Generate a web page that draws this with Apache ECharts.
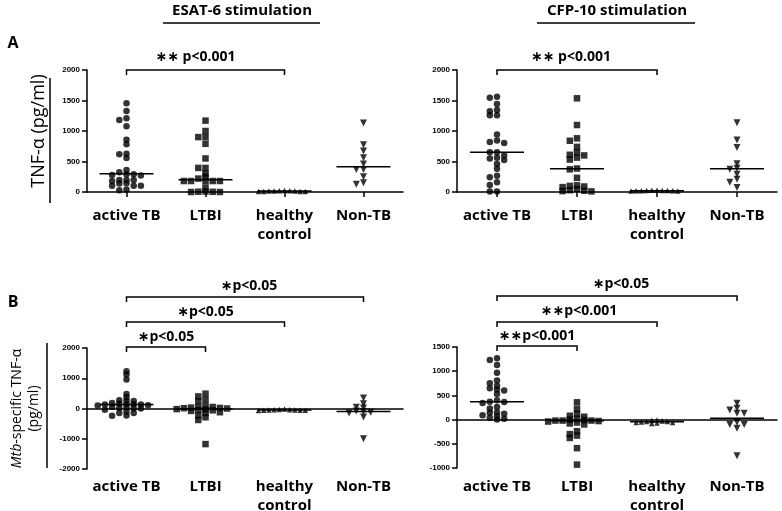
<!DOCTYPE html>
<html><head><meta charset="utf-8">
<script src="https://cdn.jsdelivr.net/npm/echarts@6/dist/echarts.min.js"></script>
<style>html,body{margin:0;padding:0;background:#fff}#c{width:782px;height:511px}</style>
</head><body><div id="c"></div>
<script>
// ---------------- DATA ----------------
const categories = ['active TB', 'LTBI', 'healthy\ncontrol', 'Non-TB'];

const ticksA = [0, 500, 1000, 1500, 2000];
const ticksBLeft = [-2000, -1000, 0, 1000, 2000];
const ticksBRight = [-1000, -500, 0, 500, 1000, 1500];

// A: ESAT-6 stimulation, TNF-α (pg/ml)
const esatActiveTB = [1453, 1327, 1208, 1180, 1077, 857, 782, 628, 618, 557, 360, 322, 290, 290, 280, 270, 197, 197, 180, 197, 143, 138, 104, 104, 104, 40, 30];
const esatLTBI = [1170, 1000, 900, 900, 790, 550, 395, 395, 303, 248, 220, 180, 180, 180, 180, 180, 73, 8, 5, 3, 0, 0];
const esatHealthy = [20, 15, 10, 25, 10, 15, 20, 10, 15, 10];
const esatNonTB = [1133, 776, 674, 563, 460, 370, 370, 250, 153, 127];
const esatMedians = [300, 200, 15, 415];

// A: CFP-10 stimulation
const cfpActiveTB = [1563, 1547, 1443, 1344, 1323, 1260, 1260, 944, 844, 820, 805, 650, 650, 600, 560, 550, 523, 457, 380, 268, 240, 160, 115, 10, 10];
const cfpLTBI = [1536, 1098, 880, 840, 740, 650, 610, 600, 564, 532, 385, 372, 232, 110, 100, 90, 80, 50, 30, 20, 15, 10];
const cfpHealthy = [20, 25, 15, 30, 20, 25, 15, 20, 30, 25];
const cfpNonTB = [1136, 852, 728, 465, 388, 372, 290, 208, 160, 73];
const cfpMedians = [650, 380, 20, 380];

// B: Mtb-specific TNF-α, ESAT-6
const specEsatActiveTB = [1230, 1120, 960, 480, 370, 270, 260, 250, 180, 160, 150, 140, 130, 130, 110, 100, 60, 40, 20, 10, 0, -40, -100, -150, -150, -230, -240];
const specEsatLTBI = [490, 400, 290, 243, 80, 60, 50, 30, 20, 10, 0, -20, -30, -50, -60, -80, -123, -150, -230, -290, -380, -1177];
const specEsatHealthy = [-20, -30, -40, -45, -50, -50, -55, -60, -60, -70];
const specEsatNonTB = [343, 157, 43, 20, -80, -100, -120, -150, -280, -1000];
const specEsatMedians = [130, -10, -50, -100];

// B: Mtb-specific TNF-α, CFP-10
const specCfpActiveTB = [1266, 1232, 1129, 970, 806, 750, 700, 650, 620, 603, 530, 400, 370, 362, 344, 260, 230, 150, 140, 120, 90, 70, 40, 20, 0];
const specCfpLTBI = [357, 220, 120, 80, 60, 20, 0, -10, -20, -20, -20, -30, -40, -60, -80, -100, -240, -300, -330, -380, -590, -930];
const specCfpHealthy = [-10, -20, -30, -40, -40, -50, -60, -60, -70, -80];
const specCfpNonTB = [337, 233, 200, 130, 130, -56, -103, -103, -180, -745];
const specCfpMedians = [370, -25, -45, 30];

// ---------------- LAYOUT / STYLE ----------------
const layout = [
  {left: 87, top: 70, width: 316, height: 122},
  {left: 457, top: 70, width: 320, height: 122},
  {left: 87, top: 348, width: 316, height: 121},
  {left: 457, top: 347, width: 320, height: 121}
];
const panels = [
  {groups: [esatActiveTB, esatLTBI, esatHealthy, esatNonTB], medians: esatMedians, ticks: ticksA, zeroLine: false,
   yName: 'TNF-α (pg/ml)', labelMargin: 14},
  {groups: [cfpActiveTB, cfpLTBI, cfpHealthy, cfpNonTB], medians: cfpMedians, ticks: ticksA, zeroLine: false,
   yName: '', labelMargin: 14},
  {groups: [specEsatActiveTB, specEsatLTBI, specEsatHealthy, specEsatNonTB], medians: specEsatMedians, ticks: ticksBLeft, zeroLine: true,
   yName: '{i|Mtb}{n|-specific TNF-α}\n{n|(pg/ml)}', labelMargin: 8},
  {groups: [specCfpActiveTB, specCfpLTBI, specCfpHealthy, specCfpNonTB], medians: specCfpMedians, ticks: ticksBRight, zeroLine: true,
   yName: '', labelMargin: 9}
];
const symbols = [
  {symbol: 'circle', size: 6.5, rotate: 0, slot: 7.2},
  {symbol: 'rect', size: 6.5, rotate: 0, slot: 7.2},
  {symbol: 'triangle', size: 5.5, rotate: 0, slot: 5.2},
  {symbol: 'triangle', size: 7, rotate: 180, slot: 7.2}
];
const black = '#000';
const lineStyle = {color: black, width: 1.5};
const FONT = '"Open Sans", "DejaVu Sans", sans-serif';

// simple beeswarm: each point takes the nearest free horizontal slot
function swarm(values, pxPerUnit, gap) {
  const order = values.map((v, i) => i).sort((a, b) => values[b] - values[a]);
  const placed = [];
  const slots = new Array(values.length);
  for (const i of order) {
    const y = values[i] * pxPerUnit;
    for (let k = 0; ; k++) {
      const s = k === 0 ? 0 : (k % 2 ? -Math.ceil(k / 2) : Math.ceil(k / 2));
      if (!placed.some(p => p.slot === s && Math.abs(p.y - y) < gap)) {
        placed.push({slot: s, y}); slots[i] = s; break;
      }
    }
  }
  return slots;
}

const grids = [], xAxes = [], yAxes = [], series = [];
panels.forEach((P, p) => {
  const L = layout[p];
  grids.push(Object.assign({outerBoundsMode: 'none'}, L));
  const tmin = P.ticks[0], tmax = P.ticks[P.ticks.length - 1], tint = P.ticks[1] - P.ticks[0];
  xAxes.push({
    type: 'category', gridIndex: p, data: categories, position: 'bottom',
    axisLine: {show: !P.zeroLine, onZero: false, lineStyle},
    axisTick: {show: !P.zeroLine, alignWithLabel: true, length: 5, lineStyle},
    axisLabel: {color: black, fontFamily: FONT, fontWeight: 'bold', fontSize: 15, lineHeight: 19, margin: P.labelMargin, interval: 0},
    splitLine: {show: false}
  });
  xAxes.push({
    type: 'value', gridIndex: p, min: 0, max: 4, position: 'bottom', show: P.zeroLine,
    axisLine: {show: true, onZero: true, lineStyle},
    axisTick: {show: false}, axisLabel: {show: false}, splitLine: {show: false}
  });
  yAxes.push({
    type: 'value', gridIndex: p, min: tmin, max: tmax, interval: tint,
    axisLine: {show: true, lineStyle},
    axisTick: {show: true, length: 5, lineStyle},
    axisLabel: {color: black, fontFamily: '"Liberation Sans", Arial, sans-serif', fontWeight: 'bold', fontSize: 8, margin: 7,
      formatter: v => String(v)},
    splitLine: {show: false},
    name: P.yName, nameLocation: 'middle', nameRotate: 90, nameGap: p === 0 ? 40 : 44,
    nameTextStyle: {color: black, fontFamily: FONT, fontSize: p === 0 ? 18 : 14, lineHeight: 17,
      rich: {i: {fontStyle: 'italic', fontFamily: FONT, fontSize: 14, color: black},
             n: {fontFamily: FONT, fontSize: 14, color: black}}}
  });
  const pxPerUnit = L.height / (tmax - tmin);
  const bandPx = L.width / categories.length;
  P.groups.forEach((vals, g) => {
    const S = symbols[g];
    const slots = swarm(vals, pxPerUnit, S.size * 0.5);
    series.push({
      type: 'scatter', xAxisIndex: 2 * p + 1, yAxisIndex: p,
      symbol: S.symbol, symbolSize: S.size, symbolRotate: S.rotate,
      itemStyle: {color: black}, silent: true, z: 3,
      data: vals.map((v, i) => [g + 0.5 + slots[i] * S.slot / bandPx, v])
    });
  });
  const halfW = 27 / bandPx;
  series.push({
    type: 'custom', xAxisIndex: 2 * p + 1, yAxisIndex: p, silent: true, z: 2,
    data: P.medians.map((m, g) => [g + 0.5, m]),
    renderItem: (params, api) => {
      const a = api.coord([api.value(0) - halfW, api.value(1)]);
      const b = api.coord([api.value(0) + halfW, api.value(1)]);
      return {type: 'line', shape: {x1: a[0], y1: a[1], x2: b[0], y2: b[1]}, style: {stroke: black, lineWidth: 1.5}};
    }
  });
});

const chart = echarts.init(document.getElementById('c'), null, {renderer: 'canvas'});
chart.setOption({
  animation: false, backgroundColor: '#fff',
  grid: grids, xAxis: xAxes, yAxis: yAxes, series
});

// ---------------- ANNOTATIONS ----------------
const brackets = [
  {panel: 0, from: 0, to: 2, y: 70, text: '∗∗ p<0.001', ty: 57, dx: -10},
  {panel: 1, from: 0, to: 2, y: 70, text: '∗∗ p<0.001', ty: 57, dx: -6},
  {panel: 2, from: 0, to: 1, y: 347, text: '∗p<0.05', ty: 337, dx: 0},
  {panel: 2, from: 0, to: 2, y: 322, text: '∗p<0.05', ty: 312, dx: 0},
  {panel: 2, from: 0, to: 3, y: 297, text: '∗p<0.05', ty: 286, dx: 4},
  {panel: 3, from: 0, to: 1, y: 346, text: '∗∗p<0.001', ty: 336, dx: 0},
  {panel: 3, from: 0, to: 2, y: 322, text: '∗∗p<0.001', ty: 311, dx: 2},
  {panel: 3, from: 0, to: 3, y: 296, text: '∗p<0.05', ty: 284, dx: 4}
];
const graphic = [];
const txt = (x, y, text, size, weight, align) => ({
  type: 'text', x, y, silent: true,
  style: {text, fill: black, fontFamily: FONT, fontSize: size, fontWeight: weight, align: align || 'center', verticalAlign: 'middle'}
});
const seg = (x1, y1, x2, y2) => ({type: 'line', silent: true, shape: {x1, y1, x2, y2}, style: {stroke: black, lineWidth: 1.5}});

graphic.push(txt(242, 11, 'ESAT-6 stimulation', 15, 'bold'));
graphic.push(seg(163, 23, 320, 23));
graphic.push(txt(617, 11, 'CFP-10 stimulation', 15, 'bold'));
graphic.push(seg(537, 23, 695, 23));
graphic.push(txt(13, 43, 'A', 16, 'bold'));
graphic.push(txt(13, 302, 'B', 16, 'bold'));
graphic.push(seg(50, 78, 50, 203));
graphic.push(seg(47, 343, 47, 468));

brackets.forEach(b => {
  const x1 = chart.convertToPixel({xAxisIndex: 2 * b.panel + 1}, b.from + 0.5);
  const x2 = chart.convertToPixel({xAxisIndex: 2 * b.panel + 1}, b.to + 0.5);
  graphic.push({type: 'polyline', silent: true, shape: {points: [[x1, b.y + 5], [x1, b.y], [x2, b.y], [x2, b.y + 5]]},
    style: {stroke: black, lineWidth: 1.5, fill: null}});
  graphic.push(txt((x1 + x2) / 2 + b.dx, b.ty, b.text, 14, 'bold'));
});
chart.setOption({graphic});
</script></body></html>
